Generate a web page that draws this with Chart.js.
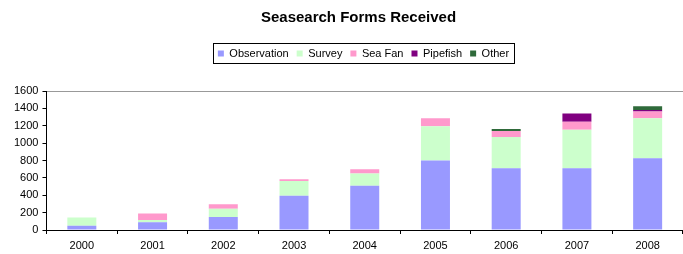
<!DOCTYPE html>
<html>
<head>
<meta charset="utf-8">
<script src="https://cdn.jsdelivr.net/npm/chart.js@4"></script>
<style>
  html, body { margin: 0; padding: 0; background: #fff; }
  #wrap { width: 683px; height: 254px; }
</style>
</head>
<body>
<div id="wrap"><canvas id="formsChart" width="683" height="254"></canvas></div>
<script>
const years = ["2000", "2001", "2002", "2003", "2004", "2005", "2006", "2007", "2008"];
const observation = [50, 88, 150, 395, 510, 800, 710, 710, 825];
const survey = [95, 27, 95, 170, 140, 395, 360, 445, 460];
const seaFan = [0, 75, 50, 20, 50, 90, 70, 90, 80];
const pipefish = [0, 0, 0, 0, 0, 0, 0, 95, 15];
const other = [0, 0, 0, 0, 0, 0, 22, 0, 45];

// gap under the legend, a little shift to the right, and the frame round it
const legendBorder = {
    id: "legendBorder",
    beforeInit(chart) {
        const origFit = chart.legend.fit;
        chart.legend.fit = function () {
            origFit.call(this);
            this.height += 22;
        };
    },
    afterLayout(chart) {
        chart.titleBlock.left += 12;
        chart.titleBlock.right += 12;
        chart.legend.left += 17;
        chart.legend.right += 17;
    },
    afterDraw(chart) {
        const boxes = chart.legend.legendHitBoxes;
        if (!boxes || !boxes.length) return;
        const first = boxes[0], last = boxes[boxes.length - 1];
        const ctx = chart.ctx;
        ctx.save();
        ctx.strokeStyle = "#000";
        ctx.lineWidth = 1;
        const x = Math.round(first.left - 5) + 0.5;
        const y = Math.round(first.top - 5) + 0.5;
        const w = Math.round(last.left + last.width + 5 - first.left + 5);
        const h = Math.round(first.height + 9);
        ctx.strokeRect(x, y, w, h);
        ctx.restore();
    }
};

const ctx = document.getElementById("formsChart").getContext("2d");
new Chart(ctx, {
    type: "bar",
    data: {
        labels: years,
        datasets: [
            { label: "Observation", data: observation, backgroundColor: "#9999ff" },
            { label: "Survey", data: survey, backgroundColor: "#ccffcc" },
            { label: "Sea Fan", data: seaFan, backgroundColor: "#ff99cc" },
            { label: "Pipefish", data: pipefish, backgroundColor: "#800080" },
            { label: "Other", data: other, backgroundColor: "#2f6a3a" }
        ]
    },
    options: {
        responsive: false,
        animation: false,
        layout: { padding: { left: 10, right: 0, top: 9, bottom: 0 } },
        datasets: { bar: { barPercentage: 0.41, categoryPercentage: 1 } },
        scales: {
            x: {
                stacked: true,
                afterFit: (s) => { s.height = 24; },
                border: { color: "#000" },
                grid: { offset: true, color: "rgba(0,0,0,0)", tickColor: "#000", tickLength: 4, drawOnChartArea: false },
                ticks: { color: "#000", font: { family: "Arial", size: 11 }, padding: 5, maxRotation: 0 }
            },
            y: {
                stacked: true,
                min: 0,
                max: 1600,
                border: { color: "#000" },
                grid: {
                    color: (c) => c.tick && c.tick.value === 1600 ? "#999" : "rgba(0,0,0,0)",
                    tickColor: "#000",
                    tickLength: 4
                },
                ticks: {
                    stepSize: 200,
                    color: "#000",
                    font: { family: "Arial", size: 11 },
                    padding: 4,
                    callback: (v) => String(v)
                }
            }
        },
        plugins: {
            title: {
                display: true,
                text: "Seasearch Forms Received",
                color: "#000",
                font: { family: "Arial", size: 15, weight: "bold" },
                padding: { top: 0, bottom: 13 }
            },
            legend: {
                position: "top",
                labels: {
                    color: "#000",
                    font: { family: "Arial", size: 11 },
                    boxWidth: 6,
                    boxHeight: 6,
                    padding: 8
                }
            },
            tooltip: { enabled: false }
        }
    },
    plugins: [legendBorder]
});
</script>
</body>
</html>
